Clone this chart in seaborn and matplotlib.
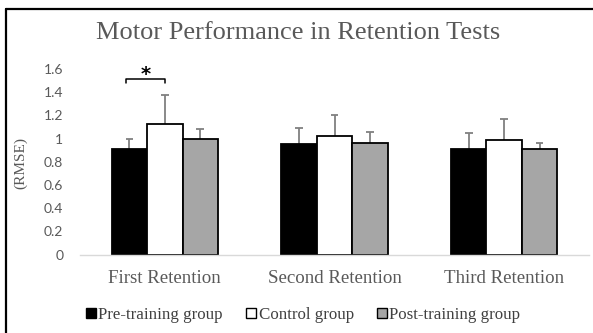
import matplotlib
matplotlib.use("Agg")
import matplotlib.pyplot as plt
import matplotlib.lines as mlines
import matplotlib.patches as mpatches
import numpy as np
import pandas as pd
import seaborn as sns

# Retention test RMSE (mean and upper SD) per group
sessions = ["First Retention", "Second Retention", "Third Retention"]
groups = ["Pre-training group", "Control group", "Post-training group"]
pre_mean = [0.91, 0.95, 0.91]
ctrl_mean = [1.13, 1.02, 0.99]
post_mean = [1.00, 0.96, 0.91]
pre_sd = [0.09, 0.14, 0.14]
ctrl_sd = [0.245, 0.18, 0.175]
post_sd = [0.08, 0.095, 0.05]

colors = ["#000000", "#ffffff", "#a6a6a6"]
serif = ["Liberation Serif", "DejaVu Serif"]
text_gray = "#595959"

rows = []
for g, means, sds in zip(groups, [pre_mean, ctrl_mean, post_mean], [pre_sd, ctrl_sd, post_sd]):
    for s, m, e in zip(sessions, means, sds):
        rows.append({"session": s, "group": g, "rmse": m, "sd": e})
df = pd.DataFrame(rows)

sns.set_theme(style="white")
fig = plt.figure(figsize=(5.93, 3.33), dpi=100)
W, H = 593, 333
ax = fig.add_axes([80 / W, (H - 254.6) / H, (589 - 80) / W, (254.6 - 69) / H])

sns.barplot(data=df, x="session", y="rmse", hue="group", order=sessions,
            hue_order=groups, palette=colors, width=0.625, gap=0,
            errorbar=None, edgecolor="black", linewidth=1.3, legend=False,
            zorder=2, ax=ax)

# Upward-only error bars: a stem from the bar top and a cap at mean + SD
cap_half = 0.022
for gi, g in enumerate(groups):
    sub = df[df["group"] == g].set_index("session").loc[sessions]
    container = ax.containers[gi]
    xs = np.array([b.get_x() + b.get_width() / 2 for b in container])
    tops = sub["rmse"].values + sub["sd"].values
    ax.vlines(xs, sub["rmse"].values, tops, color="#808080", lw=1.3, zorder=1)
    ax.hlines(tops, xs - cap_half, xs + cap_half, color="#808080", lw=1.3, zorder=1)

ax.set_ylim(0, 1.6)
ax.set_xlim(-0.5, 2.5)
ax.set_yticks(np.arange(0, 1.61, 0.2))
ax.set_yticklabels(["0", "0.2", "0.4", "0.6", "0.8", "1", "1.2", "1.4", "1.6"])
ax.tick_params(axis="y", length=0, pad=12, labelsize=10, labelcolor=text_gray)
ax.tick_params(axis="x", length=0, pad=11, labelsize=13.6, labelcolor=text_gray)
for lab in ax.get_yticklabels():
    lab.set_family(["Lato", "DejaVu Sans"])
for lab in ax.get_xticklabels():
    lab.set_family(serif)
ax.set_xlabel("")
ax.set_ylabel("")
for side in ["top", "right", "left"]:
    ax.spines[side].set_visible(False)
ax.spines["bottom"].set_color("#d9d9d9")
ax.spines["bottom"].set_linewidth(1.0)
ax.set_facecolor("white")

fig.text(21 / W, (H - 163) / H, "(RMSE)", rotation=90, ha="center", va="center",
         fontsize=11, color=text_gray, family=serif)

fig.text(298 / W, (H - 33) / H, "Motor Performance in Retention Tests",
         ha="center", va="center", fontsize=19, color=text_gray, family=serif)

# Significance bracket between pre-training and control in the first session
c_pre = ax.containers[0][0]
c_ctl = ax.containers[1][0]
x0 = c_pre.get_x() + c_pre.get_width() * 0.4
x1 = c_ctl.get_x() + c_ctl.get_width() / 2
yb, leg = 1.516, 0.035
ax.plot([x0, x0, x1, x1], [yb - leg, yb, yb, yb - leg], color="black",
        lw=1.1, clip_on=False)
ax.text((x0 + x1) / 2, 1.555, "*", ha="center", va="center", fontsize=14,
        fontweight="bold", color="black", clip_on=False,
        family=["DejaVu Sans"])

handles = [mpatches.Patch(facecolor=c, edgecolor="black", linewidth=1.0, label=g)
           for c, g in zip(colors, groups)]
fig.legend(handles=handles, loc="center", bbox_to_anchor=(0.511, (H - 315) / H),
           ncol=3, frameon=False, handlelength=0.6, handleheight=0.6,
           handletextpad=0.15, columnspacing=1.35,
           prop={"family": serif, "size": 12.2}, labelcolor="#404040")

# Outer frame lines along the left and top edges
fig.add_artist(mlines.Line2D([6 / W, 6 / W], [0, (H - 9) / H], color="black",
                             lw=1.6, transform=fig.transFigure))
fig.add_artist(mlines.Line2D([6 / W, 1], [(H - 9) / H, (H - 9) / H], color="black",
                             lw=1.6, transform=fig.transFigure))

fig.savefig("out.png", dpi=100, facecolor="white")
